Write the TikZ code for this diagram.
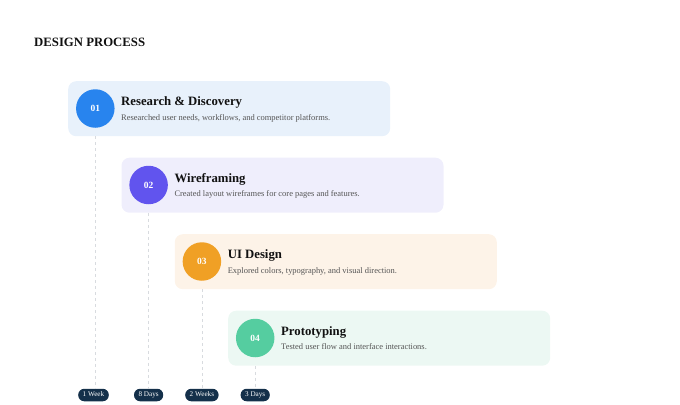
\documentclass[tikz,border=0pt]{standalone}
\usepackage{fontspec}
\setmainfont{Liberation Serif}
\definecolor{bgA}{HTML}{E8F1FB}
\definecolor{bgB}{HTML}{EFEEFC}
\definecolor{bgC}{HTML}{FDF3E8}
\definecolor{bgD}{HTML}{ECF8F3}
\definecolor{cA}{HTML}{2884EE}
\definecolor{cB}{HTML}{6154EE}
\definecolor{cC}{HTML}{F0A025}
\definecolor{cD}{HTML}{55CDA0}
\definecolor{navy}{HTML}{14304A}
\definecolor{ttl}{HTML}{111111}
\definecolor{desc}{HTML}{555555}
\definecolor{dashc}{HTML}{D8DBDF}
\tikzset{
  card/.style={rectangle, rounded corners=8bp, minimum width=322bp, minimum height=55bp, anchor=north west, inner sep=0pt},
  numcirc/.style={circle, minimum size=38.5bp, inner sep=0pt, text=white, font=\fontsize{9.5}{10}\selectfont\bfseries},
  titletext/.style={anchor=base west, inner sep=0pt, text=ttl, font=\fontsize{12.8}{14}\selectfont\bfseries},
  desctext/.style={anchor=base west, inner sep=0pt, text=desc, font=\fontsize{8.5}{10}\selectfont},
  pill/.style={rectangle, rounded corners=6bp, minimum height=12.5bp, inner xsep=4.5bp, inner ysep=0pt, text height=5bp, text depth=1.6bp, fill=navy, text=white, font=\fontsize{7.2}{8}\selectfont},
  guide/.style={draw=dashc, line width=0.8bp, dash pattern=on 3bp off 3bp}
}
\begin{document}
\begin{tikzpicture}[x=1bp, y=-1bp]
\useasboundingbox (0,0) rectangle (680,404);
\node[anchor=base west, inner sep=0pt, text=ttl, font=\fontsize{12.8}{14}\selectfont\bfseries] (head) at (34,46) {DESIGN PROCESS};

% cards
\node[card, fill=bgA] (k1) at (68,81) {};
\node[card, fill=bgB] (k2) at (121.3,157.5) {};
\node[card, fill=bgC] (k3) at (174.6,234) {};
\node[card, fill=bgD] (k4) at (228,310.5) {};

% circles
\node[numcirc, fill=cA] (c1) at (95.3,108.5) {01};
\node[numcirc, fill=cB] (c2) at (148.6,185) {02};
\node[numcirc, fill=cC] (c3) at (201.9,261.5) {03};
\node[numcirc, fill=cD] (c4) at (255.2,338) {04};

% titles and descriptions
\node[titletext] (t1) at (121,105.5) {Research \& Discovery};
\node[desctext] (d1) at (121,120) {Researched user needs, workflows, and competitor platforms.};
\node[titletext] (t2) at (174.3,182) {Wireframing};
\node[desctext] (d2) at (174.3,196.5) {Created layout wireframes for core pages and features.};
\node[titletext] (t3) at (227.6,258.5) {UI Design};
\node[desctext] (d3) at (227.6,273) {Explored colors, typography, and visual direction.};
\node[titletext] (t4) at (281,335) {Prototyping};
\node[desctext] (d4) at (281,349.5) {Tested user flow and interface interactions.};

% pills
\node[pill] (p1) at (93.5,395) {1 Week};
\node[pill] (p2) at (148.6,395) {8 Days};
\node[pill] (p3) at (201.9,395) {2 Weeks};
\node[pill] (p4) at (255.2,395) {3 Days};

% dashed guides
\draw[guide] (c1 |- k1.south) -- (c1 |- p1.north);
\draw[guide] (c2 |- k2.south) -- (c2 |- p2.north);
\draw[guide] (c3 |- k3.south) -- (c3 |- p3.north);
\draw[guide] (c4 |- k4.south) -- (c4 |- p4.north);
\end{tikzpicture}
\end{document}
